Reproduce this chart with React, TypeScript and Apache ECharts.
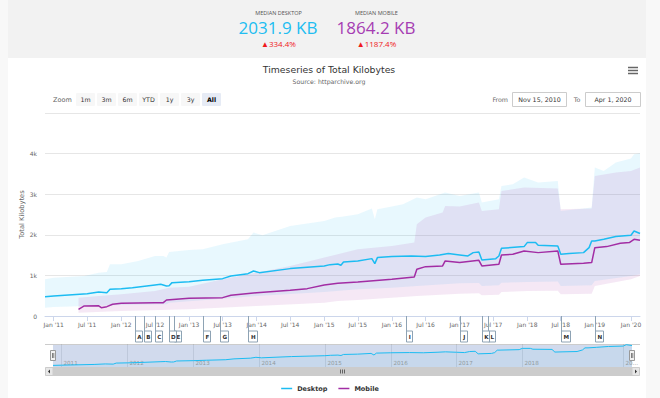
import React, { useEffect, useRef } from 'react';
import * as echarts from 'echarts';

const FONT = '"DejaVu Sans", Verdana, sans-serif';
const KPI_FONT = '"Open Sans", "Noto Sans", sans-serif';
const DESKTOP_COLOR = '#1cbcf2';
const MOBILE_COLOR = '#a22da4';

// ---- data (date, kilobytes) ----
const DESKTOP_MEDIAN: [string, number][] = [
  ['2010-11-15', 477], ['2011-01-01', 493], ['2011-07-01', 550], ['2011-09-01', 590], ['2011-10-15', 575],
  ['2011-11-01', 657], ['2012-01-01', 674], ['2012-03-01', 698], ['2012-07-01', 764], ['2012-08-01', 780],
  ['2012-09-01', 740], ['2012-09-15', 745], ['2012-10-01', 822], ['2013-01-01', 846], ['2013-03-15', 879],
  ['2013-07-01', 920], ['2013-08-15', 986], ['2013-11-15', 1043], ['2013-12-15', 1109], ['2014-01-15', 1068],
  ['2014-07-01', 1167], ['2015-01-01', 1233], ['2015-02-01', 1265], ['2015-03-15', 1282], ['2015-04-01', 1249],
  ['2015-04-15', 1331], ['2015-07-01', 1356], ['2015-09-15', 1413], ['2015-10-01', 1290], ['2015-10-15', 1438],
  ['2016-01-01', 1463], ['2016-04-15', 1479], ['2016-07-01', 1463], ['2016-09-15', 1504], ['2016-11-01', 1537],
  ['2017-01-01', 1504], ['2017-02-15', 1479], ['2017-03-15', 1561], ['2017-04-15', 1578], ['2017-05-01', 1380],
  ['2017-07-15', 1413], ['2017-08-01', 1479], ['2017-08-15', 1668], ['2017-12-15', 1709], ['2018-01-01', 1808],
  ['2018-02-15', 1808], ['2018-03-01', 1742], ['2018-06-15', 1726], ['2018-07-01', 1520], ['2018-08-15', 1537],
  ['2018-11-01', 1561], ['2018-12-01', 1684], ['2018-12-15', 1849], ['2019-01-01', 1849], ['2019-04-01', 1890],
  ['2019-08-01', 1956], ['2020-01-01', 1988], ['2020-02-01', 2095], ['2020-04-01', 2032],
];

const MOBILE_MEDIAN: [string, number][] = [
  ['2011-05-15', 164], ['2011-06-15', 247], ['2011-09-01', 250], ['2011-09-15', 205], ['2011-10-15', 230],
  ['2011-11-15', 288], ['2012-01-01', 312], ['2012-07-01', 329], ['2012-08-15', 329], ['2012-09-01', 394],
  ['2013-01-01', 435], ['2013-07-01', 452], ['2013-08-15', 509], ['2014-01-01', 575], ['2014-07-01', 633],
  ['2014-10-01', 674], ['2015-01-01', 764], ['2015-03-15', 805], ['2015-07-01', 838], ['2016-01-01', 904],
  ['2016-05-01', 961], ['2016-05-15', 1150], ['2016-07-01', 1216], ['2016-10-01', 1233], ['2016-10-15', 1356],
  ['2017-01-01', 1315], ['2017-04-15', 1372], ['2017-05-01', 1233], ['2017-08-01', 1274], ['2017-08-15', 1504],
  ['2017-10-15', 1520], ['2017-12-15', 1602], ['2018-03-01', 1561], ['2018-06-15', 1602], ['2018-07-01', 1274],
  ['2018-11-01', 1298], ['2018-12-15', 1315], ['2019-01-01', 1684], ['2019-05-01', 1709], ['2019-09-15', 1791],
  ['2019-12-15', 1808], ['2020-02-01', 1890], ['2020-04-01', 1864],
];

const DESKTOP_HIGH: [string, number][] = [
  ['2010-11-15', 904], ['2011-01-01', 945], ['2011-06-15', 986], ['2011-09-01', 1068], ['2011-10-15', 1085],
  ['2011-11-01', 1274], ['2012-01-01', 1274], ['2012-04-01', 1356], ['2012-07-01', 1479], ['2012-08-15', 1479],
  ['2012-09-01', 1438], ['2012-09-15', 1578], ['2013-01-01', 1627], ['2013-03-15', 1643], ['2013-07-01', 1767],
  ['2013-11-15', 1890], ['2013-12-15', 2054], ['2014-02-01', 1988], ['2014-07-01', 2219], ['2015-01-01', 2342],
  ['2015-03-01', 2424], ['2015-04-15', 2449], ['2015-07-01', 2506], ['2015-09-15', 2646], ['2015-10-01', 2383],
  ['2015-10-15', 2630], ['2016-01-01', 2695], ['2016-03-01', 2753], ['2016-05-15', 2917], ['2016-07-01', 2876],
  ['2016-10-15', 3040], ['2017-01-01', 2958], ['2017-04-15', 3040], ['2017-05-01', 2794], ['2017-08-01', 2876],
  ['2017-08-15', 3204], ['2017-10-15', 3245], ['2017-12-15', 3410], ['2018-03-01', 3286], ['2018-06-15', 3328],
  ['2018-07-01', 2588], ['2018-11-01', 2646], ['2018-12-15', 2671], ['2019-01-01', 3656], ['2019-04-01', 3574],
  ['2019-08-01', 3780], ['2020-01-01', 3878], ['2020-02-01', 3985], ['2020-04-01', 4010],
];

const DESKTOP_LOW: [string, number][] = [
  ['2010-11-15', 205], ['2011-01-01', 222], ['2011-07-01', 247], ['2012-01-01', 271], ['2012-09-01', 290],
  ['2012-09-15', 329], ['2013-07-01', 427], ['2014-01-01', 493], ['2015-01-01', 592], ['2015-07-01', 657],
  ['2016-01-01', 698], ['2016-05-15', 740], ['2017-01-01', 805], ['2017-04-15', 815], ['2017-05-01', 740],
  ['2017-08-01', 760], ['2017-08-15', 822], ['2018-01-01', 838], ['2018-06-15', 850], ['2018-07-01', 740],
  ['2018-12-15', 760], ['2019-01-01', 863], ['2020-01-01', 986], ['2020-04-01', 1027],
];

const MOBILE_HIGH: [string, number][] = [
  ['2011-05-15', 452], ['2011-09-01', 493], ['2012-01-01', 534], ['2012-07-01', 616], ['2012-09-15', 698],
  ['2013-01-01', 723], ['2013-07-01', 904], ['2014-01-01', 1068], ['2014-07-01', 1233], ['2015-01-01', 1438],
  ['2015-03-15', 1520], ['2015-07-01', 1643], ['2016-01-01', 1726], ['2016-05-01', 1808], ['2016-05-15', 2260],
  ['2016-07-01', 2424], ['2016-10-01', 2547], ['2016-10-15', 2712], ['2017-01-01', 2695], ['2017-04-15', 2794],
  ['2017-05-01', 2588], ['2017-08-01', 2630], ['2017-08-15', 3081], ['2017-10-15', 3122], ['2017-12-15', 3163],
  ['2018-06-15', 3139], ['2018-07-01', 2630], ['2018-12-15', 2650], ['2019-01-01', 3451], ['2019-08-01', 3533],
  ['2020-01-01', 3574], ['2020-04-01', 3656],
];

const MOBILE_LOW: [string, number][] = [
  ['2011-05-15', 82], ['2012-01-01', 123], ['2013-01-01', 164], ['2014-01-01', 247], ['2015-01-01', 329],
  ['2015-03-15', 370], ['2015-07-01', 394], ['2016-01-01', 452], ['2016-05-15', 493], ['2017-01-01', 551],
  ['2017-04-15', 560], ['2017-05-01', 509], ['2017-08-01', 525], ['2017-08-15', 592], ['2018-01-01', 616],
  ['2018-06-15', 625], ['2018-07-01', 534], ['2018-12-15', 550], ['2019-01-01', 740], ['2020-01-01', 904],
  ['2020-04-01', 986],
];

const FLAGS: [string, string][] = [
  ['2012-03-15', 'A'], ['2012-05-01', 'B'], ['2012-07-01', 'C'], ['2012-09-15', 'D'], ['2012-10-10', 'E'],
  ['2013-03-15', 'F'], ['2013-06-15', 'G'], ['2013-11-15', 'H'], ['2016-03-15', 'I'], ['2017-01-01', 'J'],
  ['2017-05-01', 'K'], ['2017-06-01', 'L'], ['2018-07-01', 'M'], ['2019-01-01', 'N'],
];

const X_TICKS = [
  '2011-01-01', '2011-07-01', '2012-01-01', '2012-07-01', '2013-01-01', '2013-07-01', '2014-01-01',
  '2014-07-01', '2015-01-01', '2015-07-01', '2016-01-01', '2016-07-01', '2017-01-01', '2017-07-01',
  '2018-01-01', '2018-07-01', '2019-01-01', '2020-01-01',
];
const NAV_YEARS = ['2011', '2012', '2013', '2014', '2015', '2016', '2017', '2018', '2020'];
const Y_MAX = 5000;
const Y_STEP = 1000;

const RANGE_BUTTONS = ['1m', '3m', '6m', 'YTD', '1y', '3y', 'All'];
const SELECTED_BUTTON = 'All';
const RANGE_FROM = 'Nov 15, 2010';
const RANGE_TO = 'Apr 1, 2020';

const KPIS = [
  { label: 'MEDIAN DESKTOP', value: '2031.9 KB', change: '▲334.4%', color: '#21bdf1', cx: 278 },
  { label: 'MEDIAN MOBILE', value: '1864.2 KB', change: '▲1187.4%', color: '#a63db3', cx: 376 },
];

const TITLE = 'Timeseries of Total Kilobytes';
const SUBTITLE = 'Source: httparchive.org';

// ---- ordinal-like time scale (crawls became monthly in 2019) ----
const START = Date.UTC(2010, 10, 15);
const BREAK = Date.UTC(2019, 0, 1);
const YEAR = 365.25 * 86400000;
const COMPRESS = 0.535;
function ord(d: string): number {
  const t = (Date.parse(d + 'T00:00:00Z') - START) / YEAR;
  const b = (BREAK - START) / YEAR;
  return t <= b ? t : b + (t - b) * COMPRESS;
}
const X_MAX = ord('2020-04-01');

function tickText(d: string) {
  const [y, m] = d.split('-');
  return `${m === '01' ? 'Jan' : 'Jul'} '${y.slice(2)}`;
}
const TICK_MAP = new Map(X_TICKS.map((d) => [ord(d).toFixed(5), tickText(d)]));

function txt(x: number, y: number, text: string, o: any = {}) {
  return {
    type: 'text',
    x,
    y,
    silent: true,
    style: {
      text,
      fill: o.fill || '#333',
      fontSize: o.size || 6.5,
      fontFamily: o.family || FONT,
      fontWeight: o.weight || 'normal',
      align: o.align || 'left',
      textAlign: o.align || 'left',
      verticalAlign: 'middle',
      textVerticalAlign: 'middle',
    },
  };
}

function bandSeries(name: string, high: [string, number][], low: [string, number][], color: string) {
  const pts = [...high, ...[...low].reverse()];
  return {
    type: 'custom',
    name,
    xAxisIndex: 0,
    yAxisIndex: 0,
    z: 1,
    silent: true,
    data: [[ord(high[0][0]), high[0][1]]],
    renderItem: (_p: any, api: any) => ({
      type: 'polygon',
      shape: { points: pts.map(([d, v]) => api.coord([ord(d), v])) },
      style: { fill: color },
    }),
  };
}

function buildOption() {
  const flagsDraw = [...FLAGS].reverse();
  const FLAG_W: Record<string, number> = { I: 6, M: 9, N: 8, H: 9, G: 8 };
  const elements: any[] = [];

  KPIS.forEach((k) => {
    elements.push(txt(k.cx + 0.5, 13, k.label, { size: 5.5, fill: '#555', family: KPI_FONT, align: 'center' }));
    elements.push(txt(k.cx, 27, k.value, { size: 17, fill: k.color, family: KPI_FONT, align: 'center' }));
    elements.push(txt(k.cx + 0.5, 43.5, k.change, { size: 8, fill: '#f0191c', family: KPI_FONT, align: 'center' }));
  });

  elements.push(txt(329, 69, TITLE, { size: 9.3, fill: '#333', align: 'center' }));
  elements.push(txt(329, 81, SUBTITLE, { size: 6.2, fill: '#666', align: 'center' }));

  [67.5, 70.5, 73.5].forEach((y) =>
    elements.push({ type: 'rect', silent: true, shape: { x: 628, y: y - 0.75, width: 10, height: 1.5 }, style: { fill: '#666' } })
  );

  elements.push(txt(53, 99.5, 'Zoom', { size: 6.5, fill: '#666' }));
  RANGE_BUTTONS.forEach((b, i) => {
    const x = 76 + i * 21;
    const sel = b === SELECTED_BUTTON;
    elements.push({ type: 'rect', silent: true, shape: { x, y: 93, width: 19, height: 13, r: 1 }, style: { fill: sel ? '#e6ebf5' : '#f7f7f7' } });
    elements.push(txt(x + 9.5, 99.5, b, { size: 6.3, fill: sel ? '#000' : '#333', weight: sel ? 'bold' : 'normal', align: 'center' }));
  });

  elements.push(txt(508, 99.5, 'From', { size: 6.3, fill: '#666', align: 'right' }));
  elements.push({ type: 'rect', silent: true, shape: { x: 512.5, y: 92.5, width: 54, height: 14 }, style: { fill: '#fff', stroke: '#cccccc', lineWidth: 1 } });
  elements.push(txt(539.5, 99.5, RANGE_FROM, { size: 6.3, fill: '#333', align: 'center' }));
  elements.push(txt(577, 99.5, 'To', { size: 6.3, fill: '#666', align: 'center' }));
  elements.push({ type: 'rect', silent: true, shape: { x: 585.5, y: 92.5, width: 55, height: 14 }, style: { fill: '#fff', stroke: '#cccccc', lineWidth: 1 } });
  elements.push(txt(613, 99.5, RANGE_TO, { size: 6.3, fill: '#333', align: 'center' }));

  // navigator decorations
  elements.push({ type: 'rect', silent: true, shape: { x: 53, y: 344, width: 579, height: 23 }, style: { fill: 'rgba(102,133,194,0.3)' } });
  elements.push({ type: 'line', silent: true, shape: { x1: 45, y1: 344.5, x2: 640, y2: 344.5 }, style: { stroke: '#cccccc', lineWidth: 1 } });
  // scrollbar
  elements.push({ type: 'rect', silent: true, shape: { x: 45, y: 367, width: 595, height: 9 }, style: { fill: '#f2f2f2' } });
  elements.push({ type: 'rect', silent: true, shape: { x: 53, y: 367, width: 579, height: 9 }, style: { fill: '#cccccc' } });
  elements.push({ type: 'rect', silent: true, shape: { x: 45.5, y: 367.5, width: 7.5, height: 8 }, style: { fill: '#e6e6e6', stroke: '#cccccc', lineWidth: 1 } });
  elements.push({ type: 'rect', silent: true, shape: { x: 632, y: 367.5, width: 7.5, height: 8 }, style: { fill: '#e6e6e6', stroke: '#cccccc', lineWidth: 1 } });
  elements.push({ type: 'polygon', silent: true, shape: { points: [[50, 369.5], [50, 373.5], [48, 371.5]] }, style: { fill: '#333' } });
  elements.push({ type: 'polygon', silent: true, shape: { points: [[635, 369.5], [635, 373.5], [637, 371.5]] }, style: { fill: '#333' } });
  [340.5, 342.5, 344.5].forEach((x) =>
    elements.push({ type: 'line', silent: true, shape: { x1: x, y1: 369.5, x2: x, y2: 373.5 }, style: { stroke: '#333', lineWidth: 0.7 } })
  );
  // handles
  [53, 632].forEach((cx) => {
    elements.push({ type: 'rect', silent: true, z: 10, shape: { x: cx - 2.5, y: 350.5, width: 5, height: 10 }, style: { fill: '#f2f2f2', stroke: '#999999', lineWidth: 1 } });
    elements.push({ type: 'line', silent: true, z: 11, shape: { x1: cx - 0.5, y1: 353, x2: cx - 0.5, y2: 358 }, style: { stroke: '#333', lineWidth: 0.6 } });
    elements.push({ type: 'line', silent: true, z: 11, shape: { x1: cx + 0.8, y1: 353, x2: cx + 0.8, y2: 358 }, style: { stroke: '#333', lineWidth: 0.6 } });
  });

  const toXY = (arr: [string, number][]) => arr.map(([d, v]) => [ord(d), v]);

  return {
    animation: false,
    backgroundColor: 'transparent',
    textStyle: { fontFamily: FONT },
    graphic: { elements },
    legend: {
      data: ['Desktop', 'Mobile'],
      left: 'center',
      top: 380,
      icon: 'rect',
      itemWidth: 11,
      itemHeight: 1.5,
      itemGap: 11,
      textStyle: { fontSize: 6.5, fontWeight: 'bold', color: '#333', fontFamily: FONT },
      selectedMode: false,
    },
    grid: [
      { left: 45, width: 595, top: 113, height: 203 },
      { left: 53, width: 579, top: 344, height: 23 },
    ],
    xAxis: [
      {
        type: 'value',
        gridIndex: 0,
        min: 0,
        max: X_MAX,
        axisLine: { lineStyle: { color: '#ccd6eb', width: 1 } },
        axisTick: { customValues: X_TICKS.map(ord), length: 5, lineStyle: { color: '#ccd6eb' } },
        axisLabel: {
          customValues: X_TICKS.map(ord),
          formatter: (v: number) => TICK_MAP.get(v.toFixed(5)) || '',
          fontSize: 6,
          color: '#666',
          margin: 5,
          fontFamily: FONT,
        },
        splitLine: { show: false },
      },
      {
        type: 'value',
        gridIndex: 1,
        min: 0,
        max: X_MAX,
        show: false,
      },
    ],
    yAxis: [
      {
        type: 'value',
        gridIndex: 0,
        min: 0,
        max: Y_MAX,
        interval: Y_STEP,
        name: 'Total Kilobytes',
        nameLocation: 'middle',
        nameGap: 20,
        nameMoveOverlap: false,
        nameTextStyle: { fontSize: 6.7, color: '#666', fontFamily: FONT },
        axisLine: { show: false },
        axisTick: { show: false },
        axisLabel: {
          showMaxLabel: false,
          formatter: (v: number) => (v === 0 ? '0' : `${v / 1000}k`),
          fontSize: 6,
          color: '#666',
          margin: 8,
          padding: [0, 0, 6, 0],
          fontFamily: FONT,
        },
        splitLine: { lineStyle: { color: '#e6e6e6', width: 1 } },
      },
      { type: 'value', gridIndex: 1, min: 350, max: 2150, show: false },
    ],
    series: [
      bandSeries('Desktop range', DESKTOP_HIGH, DESKTOP_LOW, 'rgba(28,188,242,0.1)'),
      bandSeries('Mobile range', MOBILE_HIGH, MOBILE_LOW, 'rgba(162,45,164,0.11)'),
      {
        type: 'line',
        name: 'Desktop',
        xAxisIndex: 0,
        yAxisIndex: 0,
        data: toXY(DESKTOP_MEDIAN),
        showSymbol: false,
        symbol: 'none',
        color: DESKTOP_COLOR,
        lineStyle: { width: 1.5, color: DESKTOP_COLOR },
        z: 3,
      },
      {
        type: 'line',
        name: 'Mobile',
        xAxisIndex: 0,
        yAxisIndex: 0,
        data: toXY(MOBILE_MEDIAN),
        showSymbol: false,
        symbol: 'none',
        color: MOBILE_COLOR,
        lineStyle: { width: 1.5, color: MOBILE_COLOR },
        z: 4,
      },
      {
        type: 'custom',
        name: 'flags',
        xAxisIndex: 0,
        yAxisIndex: 0,
        z: 6,
        silent: true,
        data: flagsDraw.map(([d]) => [ord(d), 0]),
        renderItem: (params: any, api: any) => {
          const x = Math.round(api.coord([api.value(0), 0])[0]) + 0.5;
          const cs = params.coordSys;
          const y0 = cs.y + cs.height;
          const letter = flagsDraw[params.dataIndex][1];
          const w = FLAG_W[letter] || 7;
          return {
            type: 'group',
            children: [
              { type: 'line', shape: { x1: x, y1: y0, x2: x, y2: y0 + 15 }, style: { stroke: '#8ea3b4', lineWidth: 1 } },
              { type: 'rect', shape: { x, y: y0 + 15, width: w, height: 11 }, style: { fill: '#fff', stroke: '#8ea3b4', lineWidth: 1 } },
              {
                type: 'text',
                x: x + w / 2 + 0.3,
                y: y0 + 20.8,
                style: {
                  text: letter, fill: '#333', fontSize: 5.6, fontWeight: 'bold', fontFamily: FONT,
                  align: 'center', textAlign: 'center', verticalAlign: 'middle', textVerticalAlign: 'middle',
                },
              },
            ],
          };
        },
      },
      {
        type: 'custom',
        name: 'navigator years',
        xAxisIndex: 1,
        yAxisIndex: 1,
        z: 1,
        silent: true,
        data: NAV_YEARS.map((y) => [ord(`${y}-01-01`), 1000]),
        renderItem: (params: any, api: any) => {
          const x = Math.round(api.coord([api.value(0), 1000])[0]) + 0.5;
          const cs = params.coordSys;
          const year = NAV_YEARS[params.dataIndex];
          const label = x + 16 > 632 ? year.slice(0, 2) + '…' : year;
          return {
            type: 'group',
            children: [
              { type: 'line', shape: { x1: x, y1: cs.y, x2: x, y2: cs.y + cs.height }, style: { stroke: 'rgba(60,70,90,0.12)', lineWidth: 1 } },
              {
                type: 'text', x: x + 2, y: cs.y + 18.5,
                style: { text: label, fill: '#999', fontSize: 5.6, fontFamily: FONT, align: 'left', textAlign: 'left', verticalAlign: 'middle', textVerticalAlign: 'middle' },
              },
            ],
          };
        },
      },
      {
        type: 'line',
        name: 'navigator',
        xAxisIndex: 1,
        yAxisIndex: 1,
        data: toXY(DESKTOP_MEDIAN),
        showSymbol: false,
        symbol: 'none',
        silent: true,
        lineStyle: { width: 1, color: DESKTOP_COLOR },
        areaStyle: { color: DESKTOP_COLOR, opacity: 0.05, origin: 'start' },
        z: 3,
      },
    ],
  };
}

export default function App() {
  const ref = useRef<HTMLDivElement>(null);
  useEffect(() => {
    const chart = echarts.init(ref.current as HTMLDivElement, undefined, { renderer: 'svg' });
    chart.setOption(buildOption() as any);
    return () => chart.dispose();
  }, []);
  return (
    <div style={{ position: 'fixed', left: 0, top: 0, width: 660, height: 398, background: '#f8f8f8', overflow: 'hidden' }}>
      <div style={{ position: 'absolute', left: 8, top: 0, width: 638, height: 58, background: '#f2f2f2' }} />
      <div style={{ position: 'absolute', left: 8, top: 58, width: 638, height: 340, background: '#ffffff' }} />
      <div ref={ref} style={{ position: 'absolute', left: 0, top: 0, width: 660, height: 398 }} />
    </div>
  );
}
